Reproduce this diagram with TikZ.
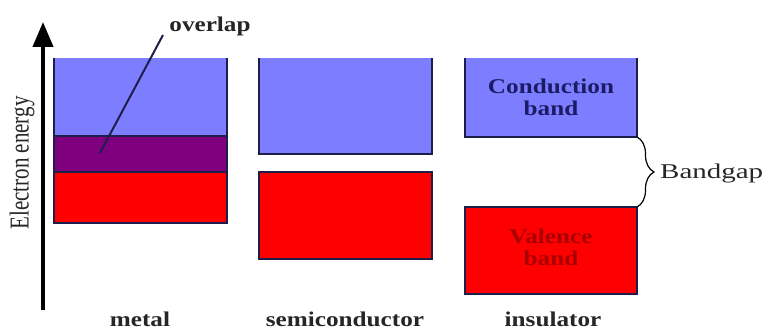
\documentclass[tikz,border=0pt]{standalone}
\usepackage{fontspec}
\setmainfont{Liberation Serif}
\usetikzlibrary{arrows.meta,decorations.pathreplacing}
\definecolor{cband}{HTML}{7D7DFF}
\definecolor{vband}{HTML}{FF0000}
\definecolor{mixband}{HTML}{7F007F}
\definecolor{edge}{HTML}{1E1E4A}
\definecolor{ctext}{HTML}{1C1C66}
\definecolor{vtext}{HTML}{A80000}
% letters are set wider than tall
\newcommand{\widebf}[1]{\scalebox{1.2}[1]{\bfseries #1}}
\tikzset{
  band/.style={rectangle, inner sep=0pt, outer sep=0pt, anchor=north west},
  edgeline/.style={draw=edge, line width=1.3pt},
  lbl/.style={font=\fontsize{21}{22}\selectfont, text=black!85, inner sep=0pt},
  inlbl/.style={font=\fontsize{21}{22}\selectfont, align=center, inner sep=0pt}
}
\begin{document}
\begin{tikzpicture}[x=1pt, y=-1pt]
\useasboundingbox (0,0) rectangle (776,331);
\fill[white] (0,0) rectangle (776,331);

% energy axis
\coordinate (axlo) at (43,310);
\coordinate (axhi) at (43,22);
\draw[line width=4pt, -{Triangle[length=25pt,width=20pt]}] (axlo) -- (axhi);
\node[lbl, rotate=90] (energy) at (22,163) {\scalebox{1}[1.3]{Electron energy}};

% metal: overlapping bands
\node[band, fill=cband, minimum width=173pt, minimum height=78pt] (mc) at (54,58) {};
\node[band, fill=mixband, minimum width=173pt, minimum height=36pt] (mm) at (54,136) {};
\node[band, fill=vband, minimum width=173pt, minimum height=51pt] (mv) at (54,172) {};
\draw[edgeline] (mc.north west) -- (mv.south west) -- (mv.south east) -- (mc.north east);
\draw[edgeline] (mm.north west) -- (mm.north east);
\draw[edgeline] (mm.south west) -- (mm.south east);
\node[lbl] (overlap) at (210,26) {\widebf{overlap}};
\coordinate (ovtip) at (100,153);
\draw[draw=edge, line width=2pt] (163,35) -- (ovtip);

% semiconductor
\node[band, fill=cband, minimum width=173pt, minimum height=96pt] (sc) at (259,58) {};
\node[band, fill=vband, minimum width=173pt, minimum height=87pt] (sv) at (259,172) {};
\draw[edgeline] (sc.north west) -- (sc.south west) -- (sc.south east) -- (sc.north east);
\draw[edgeline] (sv.north west) rectangle (sv.south east);

% insulator
\node[band, fill=cband, minimum width=172pt, minimum height=79pt] (ic) at (465,58) {};
\node[band, fill=vband, minimum width=172pt, minimum height=87pt] (iv) at (465,207) {};
\draw[edgeline] (ic.north west) -- (ic.south west) -- (ic.south east) -- (ic.north east);
\draw[edgeline] (iv.north west) rectangle (iv.south east);
\node[inlbl, text=ctext] (ctxt) at (551,97) {\widebf{Conduction}\\\widebf{band}};
\node[inlbl, text=vtext] (vtxt) at (551,247) {\widebf{Valence}\\\widebf{band}};

% band gap brace
\draw[line width=1.2pt, decorate, decoration={brace, amplitude=17pt}]
  (ic.south east) -- (iv.north east);
\node[lbl, anchor=west] (gap) at (660,173) {\scalebox{1.38}[1]{Bandgap}};

% material names
\node[lbl] (metal) at (140,319) {\widebf{metal}};
\node[lbl] (semi) at (345,319) {\widebf{semiconductor}};
\node[lbl] (ins) at (553,319) {\widebf{insulator}};
\end{tikzpicture}
\end{document}
